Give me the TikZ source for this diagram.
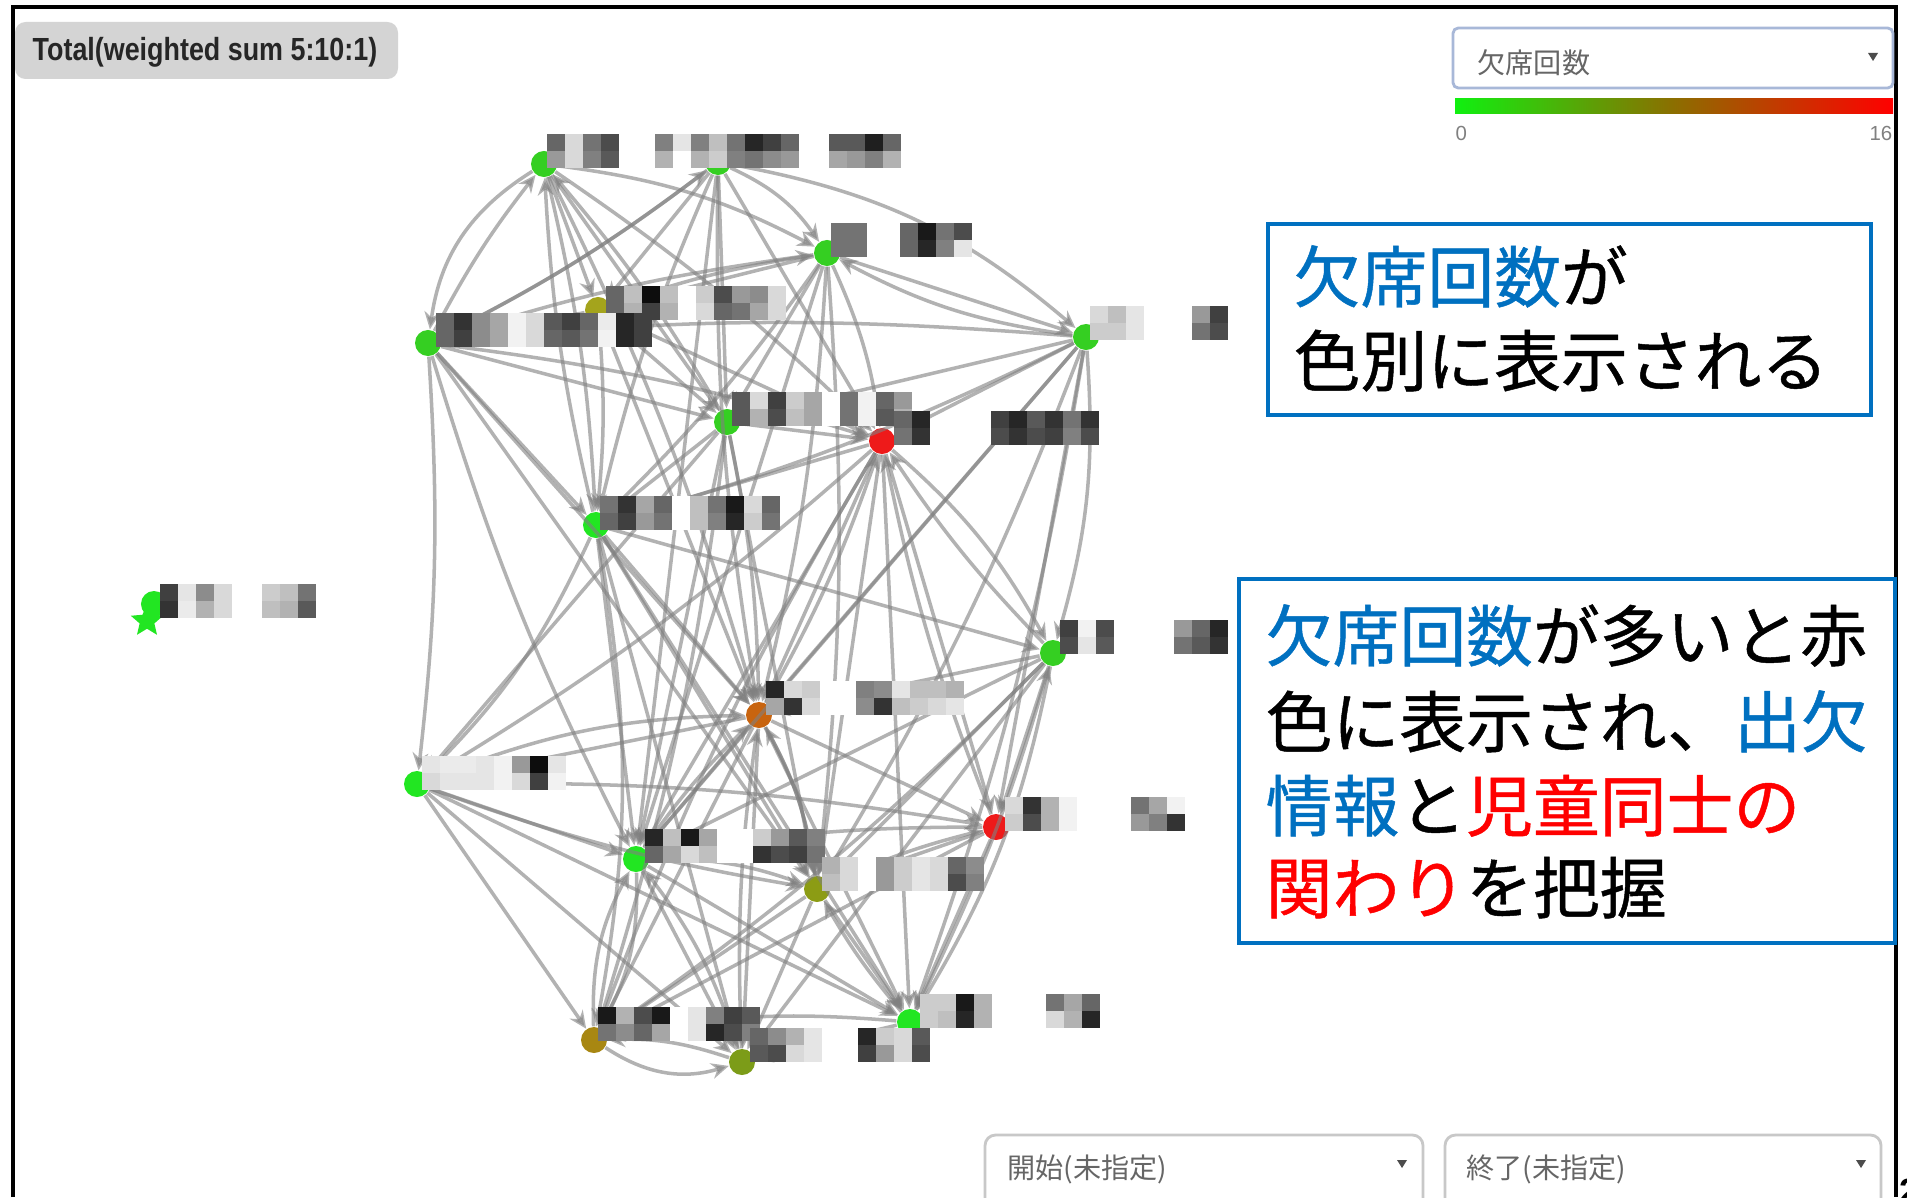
\documentclass[tikz,border=0pt]{standalone}
\usepackage{fontspec}
\newfontfamily\jp[FakeBold=0.7]{Noto Sans CJK JP}
\newfontfamily\jpr{Noto Sans CJK JP}
\newfontfamily\ars{Liberation Sans}
\usetikzlibrary{shapes.geometric,arrows.meta}
\definecolor{ablue}{HTML}{0070C0}
\definecolor{ared}{HTML}{FF0000}
\definecolor{ngreen}{HTML}{35CF22}
\definecolor{bgreen}{HTML}{22E622}
\definecolor{nred}{HTML}{EE1A1A}
\definecolor{norange}{HTML}{C8640F}
\definecolor{nolive}{HTML}{8C9C14}
\definecolor{ngold}{HTML}{A88712}
\definecolor{nolgr}{HTML}{7C9C18}
\definecolor{nyel}{HTML}{A4A41C}
\definecolor{ddborder}{HTML}{A8B8D8}
\definecolor{gborder}{HTML}{C8C8C8}
\definecolor{midc}{HTML}{8C6E00}
\definecolor{barg}{HTML}{10F010}
\newcommand\mosaic[3]{%
  \foreach \t/\b [count=\i from 0] in {#3}{%
    \fill[black!\t] ({#1+\i*18},#2) rectangle ++(18,17);
    \fill[black!\b] ({#1+\i*18},{#2+17}) rectangle ++(18,17);}}
\tikzset{
  nd/.style={circle,inner sep=0pt,minimum size=0.26cm},
  ed/.style={draw=black!50,line width=1pt,opacity=0.6,-{Stealth[length=5pt,width=4.5pt]}},
  ann/.style={draw=ablue,line width=1.3pt},
  jl/.style={anchor=base west,inner sep=0pt,font=\jp\fontsize{19}{19}\selectfont},
  dd/.style={anchor=base west,inner sep=0pt,text=black!60,font=\jpr\fontsize{8}{8}\selectfont},
}
\begin{document}
\begin{tikzpicture}[x=0.01cm,y=-0.01cm]
\useasboundingbox[fill=white] (0,0) rectangle (1907,1197);
% frame
\draw[line width=1.2pt] (13,1197) -- (13,7) -- (1896,7) -- (1896,1197);
% title tab
\fill[black!17,rounded corners=3pt] (15,22) rectangle (398,79);
\node[anchor=base west,inner sep=0pt,font=\ars\bfseries\fontsize{9.1}{9.1}\selectfont,text=black!85] (title) at (32,61) {\scalebox{0.84}[1]{Total(weighted sum 5:10:1)}};
% colour selector
\draw[ddborder,line width=0.8pt,fill=white,rounded corners=1.5pt] (1453,28) rectangle (1893,88);
\node[dd] (sel) at (1477,74) {欠席回数};
\fill[black!70] (1868,53) -- (1878,53) -- (1873,61) -- cycle;
\shade[left color=barg,right color=red,middle color=midc] (1455,99) rectangle (1893,114);
\node[anchor=base west,inner sep=0pt,text=black!50,font=\ars\fontsize{5.8}{6}\selectfont] (z0) at (1455,140) {0};
\node[anchor=base east,inner sep=0pt,text=black!50,font=\ars\fontsize{5.8}{6}\selectfont] (z16) at (1893,140) {16};
% bottom selectors
\draw[gborder,line width=0.8pt,rounded corners=3pt] (985,1220) -- (985,1135) -- (1423,1135) -- (1423,1220);
\draw[gborder,line width=0.8pt,rounded corners=3pt] (1445,1220) -- (1445,1135) -- (1881,1135) -- (1881,1220);
\node[dd] (start) at (1007,1178) {開始(未指定)};
\node[dd] (end) at (1466,1178) {終了(未指定)};
\fill[black!70] (1397,1160) -- (1407,1160) -- (1402,1168) -- cycle;
\fill[black!70] (1856,1160) -- (1866,1160) -- (1861,1168) -- cycle;
% graph nodes
\node[nd,fill=ngreen] (n1) at (544,164) {};
\node[nd,fill=ngreen] (n2) at (718,162) {};
\node[nd,fill=ngreen] (n3) at (827,253) {};
\node[nd,fill=nyel] (n4) at (598,310) {};
\node[nd,fill=ngreen] (n5) at (428,343) {};
\node[nd,fill=ngreen] (n6) at (1086,337) {};
\node[nd,fill=ngreen] (n7) at (727,422) {};
\node[nd,fill=nred] (n8) at (882,441) {};
\node[nd,fill=bgreen] (n9) at (596,525) {};
\node[nd,fill=bgreen] (n10) at (154,604) {};
\node[star,star points=5,star point ratio=2.2,fill=bgreen,inner sep=0pt,minimum size=0.34cm] (n10s) at (147,621) {};
\node[nd,fill=ngreen] (n11) at (1053,653) {};
\node[nd,fill=norange] (n12) at (759,715) {};
\node[nd,fill=bgreen] (n13) at (417,784) {};
\node[nd,fill=nred] (n14) at (996,827) {};
\node[nd,fill=bgreen] (n15) at (636,859) {};
\node[nd,fill=nolive] (n16) at (817,889) {};
\node[nd,fill=bgreen] (n17) at (910,1022) {};
\node[nd,fill=ngold] (n18) at (594,1040) {};
\node[nd,fill=nolgr] (n19) at (742,1062) {};
% edges
\foreach \a/\b/\c in {1/5/-25, 5/1/5, 1/2/12, 1/3/10, 1/4/0, 1/7/0, 1/9/5, 1/8/5, 2/5/5, 2/4/0, 2/3/15, 2/7/0, 2/9/-5, 2/8/0, 2/6/15, 3/5/-5, 3/4/0, 3/7/0, 3/9/5, 3/8/8, 3/6/0, 3/12/5, 4/5/0, 4/7/0, 4/8/0, 5/7/0, 5/8/5, 5/9/0, 5/13/5, 5/12/0, 6/7/0, 6/9/5, 6/8/0, 6/15/0, 6/16/5, 6/12/0, 6/14/0, 6/17/5, 6/11/10, 7/8/0, 7/9/0, 7/12/5, 7/15/0, 7/16/0, 8/9/0, 8/11/10, 8/12/0, 8/14/0, 8/17/0, 8/15/0, 9/12/0, 9/13/10, 9/15/0, 9/11/0, 9/16/0, 9/18/10, 11/12/0, 11/14/0, 11/17/10, 11/15/0, 11/16/0, 12/13/0, 12/15/0, 12/16/10, 12/18/0, 12/19/0, 12/17/0, 12/14/0, 13/15/0, 13/16/-5, 13/18/0, 13/17/0, 13/19/0, 14/15/-5, 14/16/0, 14/17/0, 14/18/0, 15/16/10, 15/18/15, 18/15/15, 15/19/0, 15/17/0, 16/17/0, 16/18/0, 16/19/0, 17/18/-8, 17/19/0, 18/19/-25, 19/18/-10, 19/12/5, 16/12/-10, 13/12/10, 14/8/5, 17/11/-5, 11/8/5, 9/1/5, 7/1/-5, 5/2/-5, 4/9/5, 4/12/0, 2/12/-5, 3/15/0, 3/16/5, 1/12/5, 2/15/0, 8/13/5, 8/16/0, 8/18/-5, 7/13/0, 7/18/5, 9/17/0, 9/19/0, 11/18/5, 11/19/0, 13/14/5, 16/14/5, 5/15/-5, 5/16/0, 6/3/10, 6/5/-5, 4/3/5, 12/8/-5, 15/12/5, 19/15/-10, 17/16/5}
  {\draw[ed] (n\a) to[bend left=\c] (n\b);}
% mosaic labels
\mosaic{547}{134}{60/40,15/15,55/50,70/65,0/0,0/0,50/30,10/0,50/30,25/20,55/50,85/55,75/45,60/40}
\mosaic{829}{134}{65/35,65/40,88/50,60/30}
\mosaic{831}{223}{55/55,55/55}
\mosaic{900}{223}{60/60,90/85,55/50,70/10}
\mosaic{606}{286}{60/60,25/30,95/75,25/30,0/0,20/15,70/60,40/55,45/35,15/15}
\mosaic{436}{313}{60/60,80/75,45/45,35/35,5/5,15/15,65/60,75/65,60/55,8/5,85/85,75/75}
\mosaic{1090}{306}{15/20,25/20,10/10}
\mosaic{1192}{306}{40/55,75/70}
\mosaic{732}{392}{65/65,15/30,75/70,20/25,35/35,0/0,55/55,5/5,60/65,40/30}
\mosaic{894}{411}{60/55,85/80}
\mosaic{991}{411}{75/70,85/80,65/70,80/75,55/50,80/70}
\mosaic{600}{496}{55/60,80/75,35/40,60/55,0/0,25/25,55/50,90/85,15/20,60/55}
\mosaic{160}{584}{75/80,10/8,45/30,15/15}
\mosaic{262}{584}{20/25,25/30,55/65}
\mosaic{1060}{620}{75/70,5/10,70/65}
\mosaic{1174}{620}{40/55,60/65,85/80}
\mosaic{766}{681}{85/35,15/80,20/15,0/0,0/0,50/45,45/80,10/25,25/20,25/15,30/10}
\mosaic{422}{756}{10/15,8/10,8/10,10/10,5/5,40/15,95/75,10/5}
\mosaic{1005}{797}{15/20,80/70,30/30,5/5,0/0,0/0,0/0,55/40,35/50,5/80}
\mosaic{645}{829}{85/60,25/35,90/15,35/25,0/0,0/0,20/80,40/70,65/75,50/55}
\mosaic{822}{857}{30/25,15/15,0/0,40/40,20/20,10/10,15/15,60/70,45/50}
\mosaic{920}{994}{20/20,20/25,90/85,30/30,0/0,0/0,0/0,55/15,35/30,60/85}
\mosaic{598}{1007}{90/55,30/45,70/60,90/35,0/0,10/10,50/85,75/70,65/50}
\mosaic{750}{1028}{60/65,45/70,30/15,10/10,0/0,0/0,85/75,20/40,15/15,65/70}
% annotation boxes
\draw[ann,fill=white] (1268,224) rectangle (1871,415);
\node[jl] (a1) at (1293,302) {\color{ablue}欠席回数\color{black}が};
\node[jl] (a2) at (1293,386) {色別に表示される};
\draw[ann,fill=white] (1239,579) rectangle (1895,943);
\node[jl] (b1) at (1265,661) {\color{ablue}欠席回数\color{black}が多いと赤};
\node[jl] (b2) at (1265,747) {色に表示され、\color{ablue}出欠};
\node[jl] (b3) at (1265,831) {\color{ablue}情報\color{black}と\color{ared}児童同士の};
\node[jl] (b4) at (1265,913) {\color{ared}関わり\color{black}を把握};
% page number fragment
\node[anchor=base west,inner sep=0pt,font=\ars\bfseries\fontsize{10}{10}\selectfont] (pg) at (1899,1203) {2};
\end{tikzpicture}
\end{document}
